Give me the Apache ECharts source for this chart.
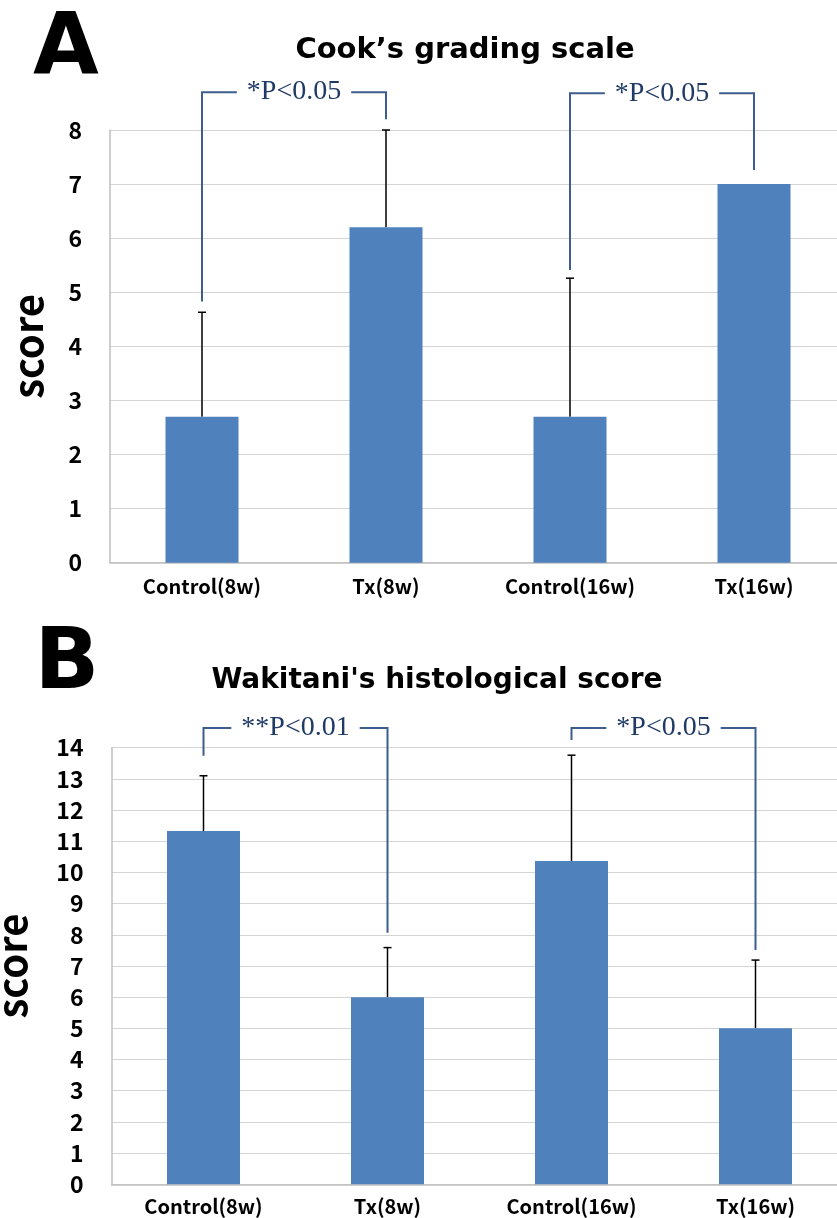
<!DOCTYPE html>
<html>
<head>
<meta charset="UTF-8">
<title>Cook / Wakitani scores</title>
<script src="https://cdn.jsdelivr.net/npm/echarts@6/dist/echarts.min.js"></script>
<style>
  html, body { margin: 0; padding: 0; background: #fff; }
  #main { width: 837px; height: 1218px; }
</style>
</head>
<body>
<div id="main"></div>
<script>
// groups on the x axis (same for both panels)
var groups = ['Control(8w)', 'Tx(8w)', 'Control(16w)', 'Tx(16w)'];

// panel A - Cook's grading scale
var cookMean = [2.7, 6.2, 2.7, 7.0];
var cookErr = [1.93, 1.8, 2.56, 0];      // upper error bar only
var cookPairs = [[0, 1], [2, 3]];
var cookTop = [8.7, 8.68];               // height of the bracket bar
var cookLeftEnd = [4.83, 5.41];
var cookRightEnd = [8.2, 7.26];
var cookText = ['*P<0.05', '*P<0.05'];

// panel B - Wakitani's histological score
var wakiMean = [11.33, 6.0, 10.37, 5.0];
var wakiErr = [1.77, 1.59, 3.39, 2.19];
var wakiPairs = [[0, 1], [2, 3]];
var wakiTop = [14.63, 14.63];
var wakiLeftEnd = [13.74, 14.25];
var wakiRightEnd = [8.07, 7.51];
var wakiText = ['**P<0.01', '*P<0.05'];

var barColor = '#4f81bd';
var bracketColor = '#3c5d8e';
var labelFont = '"Noto Sans CJK KR", "Noto Sans", sans-serif';

var myChart = echarts.init(document.getElementById('main'));

// error bar: line from bar top up to mean + err, with a small cap
function renderErr(params, api) {
    var e = api.value(2);
    if (!e) return;
    var base = api.coord([api.value(0), api.value(1)]);
    var top = api.coord([api.value(0), api.value(1) + e]);
    var st = { stroke: '#000', lineWidth: 1.5 };
    return {
        type: 'group',
        children: [
            { type: 'line', shape: { x1: base[0], y1: base[1], x2: top[0], y2: top[1] }, style: st },
            { type: 'line', shape: { x1: top[0] - 4, y1: top[1], x2: top[0] + 4, y2: top[1] }, style: st }
        ]
    };
}

// significance bracket, the text sits on the top line with a white box
function makeBracket(texts) {
    return function (params, api) {
        var a = api.coord([api.value(0), api.value(2)]);
        var b = api.coord([api.value(1), api.value(2)]);
        var aEnd = api.coord([api.value(0), api.value(3)]);
        var bEnd = api.coord([api.value(1), api.value(4)]);
        return {
            type: 'group',
            children: [
                {
                    type: 'polyline',
                    shape: { points: [aEnd, a, b, bEnd] },
                    style: { stroke: bracketColor, lineWidth: 2, fill: null }
                },
                {
                    type: 'text',
                    x: (a[0] + b[0]) / 2,
                    y: a[1],
                    style: {
                        text: texts[params.dataIndex],
                        fill: '#203a66',
                        font: '28px "Liberation Serif", serif',
                        align: 'center',
                        verticalAlign: 'middle',
                        backgroundColor: '#fff',
                        padding: [0, 10]
                    }
                }
            ]
        };
    };
}

function errData(mean, err) {
    var out = [];
    for (var i = 0; i < mean.length; i++) out.push([i, mean[i], err[i]]);
    return out;
}

function bracketData(pairs, top, l, r) {
    var out = [];
    for (var i = 0; i < pairs.length; i++) out.push([pairs[i][0], pairs[i][1], top[i], l[i], r[i]]);
    return out;
}

function xAxisOf(gridIndex, margin) {
    return {
        type: 'category',
        gridIndex: gridIndex,
        data: groups,
        axisLine: { lineStyle: { color: '#bfbfbf', width: 1.5 } },
        axisTick: { show: false },
        axisLabel: {
            margin: margin,
            color: '#000',
            fontFamily: labelFont,
            fontWeight: 'bold',
            fontSize: 20
        }
    };
}

function yAxisOf(gridIndex, max, nameGap) {
    return {
        type: 'value',
        gridIndex: gridIndex,
        min: 0,
        max: max,
        interval: 1,
        name: 'score',
        nameLocation: 'middle',
        nameRotate: 90,
        nameGap: nameGap,
        nameTextStyle: {
            color: '#000',
            fontFamily: labelFont,
            fontWeight: 'bold',
            fontSize: 40
        },
        axisLine: { show: true, lineStyle: { color: '#bfbfbf', width: 1.5 } },
        axisTick: { show: false },
        splitLine: { lineStyle: { color: '#d4d4d4', width: 1.2 } },
        axisLabel: {
            margin: 28,
            color: '#000',
            fontFamily: labelFont,
            fontWeight: 'bold',
            fontSize: 23
        }
    };
}

var option = {
    animation: false,
    backgroundColor: '#fff',
    graphic: [
        { type: 'text', x: 66, y: 51, style: { text: 'A', font: 'bold 85px "DejaVu Sans"', fill: '#000', align: 'center', verticalAlign: 'middle' } },
        { type: 'text', x: 67, y: 666, style: { text: 'B', font: 'bold 85px "DejaVu Sans"', fill: '#000', align: 'center', verticalAlign: 'middle' } },
        { type: 'text', x: 465, y: 50, style: { text: 'Cook\u2019s grading scale', font: 'bold 29px "DejaVu Sans"', fill: '#000', align: 'center', verticalAlign: 'middle' } },
        { type: 'text', x: 437, y: 681, style: { text: "Wakitani's histological score", font: 'bold 28px "DejaVu Sans"', fill: '#000', align: 'center', verticalAlign: 'middle' } }
    ],
    grid: [
        { left: 110, top: 130, width: 736, height: 432.7, outerBoundsMode: 'none' },
        { left: 111.5, top: 747.7, width: 736, height: 436.6, outerBoundsMode: 'none' }
    ],
    xAxis: [xAxisOf(0, 14), xAxisOf(1, 12)],
    yAxis: [yAxisOf(0, 8, 62), yAxisOf(1, 14, 80)],
    series: [
        {
            name: 'Cook',
            type: 'bar',
            xAxisIndex: 0,
            yAxisIndex: 0,
            barWidth: 73,
            itemStyle: { color: barColor },
            data: cookMean
        },
        {
            type: 'custom',
            xAxisIndex: 0,
            yAxisIndex: 0,
            renderItem: renderErr,
            data: errData(cookMean, cookErr)
        },
        {
            type: 'custom',
            xAxisIndex: 0,
            yAxisIndex: 0,
            renderItem: makeBracket(cookText),
            data: bracketData(cookPairs, cookTop, cookLeftEnd, cookRightEnd)
        },
        {
            name: 'Wakitani',
            type: 'bar',
            xAxisIndex: 1,
            yAxisIndex: 1,
            barWidth: 73,
            itemStyle: { color: barColor },
            data: wakiMean
        },
        {
            type: 'custom',
            xAxisIndex: 1,
            yAxisIndex: 1,
            renderItem: renderErr,
            data: errData(wakiMean, wakiErr)
        },
        {
            type: 'custom',
            xAxisIndex: 1,
            yAxisIndex: 1,
            renderItem: makeBracket(wakiText),
            data: bracketData(wakiPairs, wakiTop, wakiLeftEnd, wakiRightEnd)
        }
    ]
};

myChart.setOption(option);
</script>
</body>
</html>
